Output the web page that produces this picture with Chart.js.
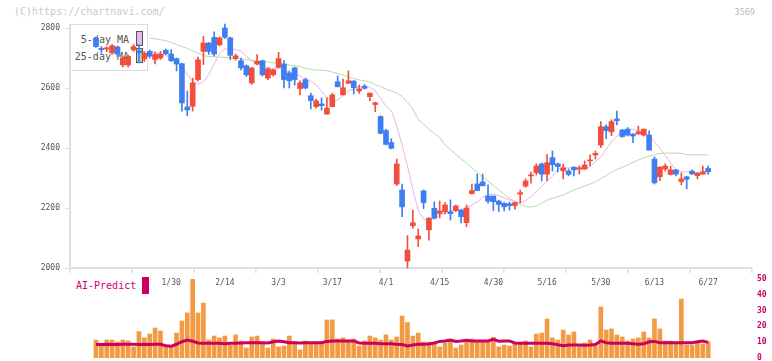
<!DOCTYPE html>
<html><head><meta charset="utf-8">
<script src="https://cdn.jsdelivr.net/npm/chart.js@4/dist/chart.umd.min.js"></script>
<style>
html,body{margin:0;padding:0;background:#fff;}
#wrap{position:relative;width:772px;height:361px;overflow:hidden;font-family:'DejaVu Sans Mono',monospace;}
canvas{position:absolute;left:0;top:0;}
.t{position:absolute;white-space:nowrap;line-height:1;}
.bx{position:absolute;box-sizing:border-box;}
</style></head><body>
<div id="wrap">
  <div class="t" style="left:14px;top:7px;font-size:10px;color:#c8c8c8">(C)https://chartnavi.com/</div>
  <div class="t" style="right:17px;top:8px;font-size:8.5px;color:#bbb">3569</div>
  <div class="bx" style="left:70px;top:24px;width:78px;height:47px;border:1px solid #ddd;background:#fff"></div>
  <div class="t" style="right:643px;top:35px;font-size:10px;color:#555">5-day MA</div>
  <div class="t" style="right:643px;top:51.5px;font-size:10px;color:#555">25-day MA</div>
  <div class="bx" style="left:136px;top:31px;width:7px;height:15px;border:1px solid #555;background:#e8b8e8"></div>
  <div class="bx" style="left:136px;top:48px;width:7px;height:15px;border:1px solid #555;background:#b8dca8"></div>
  <div class="t" style="left:76px;top:280.5px;font-size:10px;color:#cc0066">AI-Predict</div>
  <div class="bx" style="left:142px;top:277px;width:7px;height:17px;background:#cc0060"></div>
  <canvas id="c1" width="772" height="361"></canvas>
  <canvas id="c2" width="772" height="361"></canvas>
</div>
<script>
const dates = ['1/9','1/10','1/14','1/15','1/16','1/17','1/20','1/21','1/22','1/23','1/24','1/27','1/28','1/29','1/30','1/31',
'2/3','2/4','2/5','2/6','2/7','2/10','2/12','2/13','2/14','2/17','2/18','2/19','2/20','2/21','2/25','2/26','2/27','2/28',
'3/3','3/4','3/5','3/6','3/7','3/10','3/11','3/12','3/13','3/14','3/17','3/18','3/19','3/21','3/24','3/25','3/26','3/27','3/28','3/31',
'4/1','4/2','4/3','4/4','4/7','4/8','4/9','4/10','4/11','4/14','4/15','4/16','4/17','4/18','4/21','4/22','4/23','4/24','4/25','4/28','4/30',
'5/1','5/2','5/7','5/8','5/9','5/12','5/13','5/14','5/15','5/16','5/19','5/20','5/21','5/22','5/23','5/26','5/27','5/28','5/29','5/30',
'6/2','6/3','6/4','6/5','6/6','6/9','6/10','6/11','6/12','6/13','6/16','6/17','6/18','6/19','6/20','6/23','6/24','6/25','6/26','6/27'];
const xTickLabels = ['1/30','2/14','3/3','3/17','4/1','4/15','4/30','5/16','5/30','6/13','6/27'];
const priceTicks = [2000,2200,2400,2600,2800];
const volTicks = [0,10,20,30,40,50];

const opens = [2766,2732,2730,2717,2737,2677,2677,2727,2724,2697,
2722,2695,2700,2726,2713,2698,2681,2537,2539,2628,
2722,2750,2769,2744,2800,2767,2698,2691,2674,2617,
2680,2691,2633,2644,2669,2680,2650,2667,2598,2628,
2574,2538,2547,2513,2538,2621,2577,2616,2623,2590,
2606,2571,2545,2505,2458,2418,2280,2260,2023,2141,
2097,2257,2127,2199,2182,2188,2187,2191,2193,2151,
2248,2280,2287,2240,2240,2223,2216,2214,2208,2246,
2273,2307,2318,2347,2313,2368,2347,2324,2323,2336,
2330,2330,2357,2377,2410,2471,2454,2497,2460,2463,
2446,2447,2443,2443,2363,2304,2330,2312,2327,2288,
2304,2323,2308,2313,2332];
const closes = [2738,2728,2734,2741,2713,2700,2705,2738,2717,2716,
2706,2712,2713,2714,2691,2680,2550,2527,2617,2694,
2750,2722,2713,2767,2769,2709,2707,2667,2644,2667,
2689,2644,2664,2661,2698,2628,2624,2628,2617,2600,
2558,2557,2541,2533,2577,2604,2601,2624,2601,2597,
2599,2583,2551,2449,2412,2399,2347,2204,2060,2151,
2107,2218,2166,2166,2190,2210,2181,2207,2171,2200,
2258,2258,2274,2223,2221,2212,2204,2208,2218,2251,
2290,2310,2340,2313,2351,2344,2338,2334,2312,2327,
2334,2343,2360,2382,2471,2458,2488,2491,2438,2443,
2440,2454,2463,2393,2284,2336,2340,2327,2313,2297,
2296,2313,2316,2321,2321];
const highs = [2770,2738,2738,2745,2740,2705,2710,2745,2745,2722,
2727,2720,2722,2730,2728,2700,2683,2590,2633,2703,
2773,2752,2787,2770,2813,2770,2713,2700,2677,2669,
2711,2693,2667,2663,2719,2691,2657,2670,2624,2633,
2583,2563,2567,2567,2583,2640,2630,2657,2625,2610,
2612,2583,2553,2507,2462,2431,2363,2280,2108,2193,
2130,2260,2168,2220,2223,2218,2227,2210,2195,2210,
2280,2313,2313,2277,2240,2226,2218,2220,2220,2260,
2297,2320,2347,2350,2378,2390,2350,2347,2330,2338,
2340,2357,2377,2390,2488,2477,2494,2523,2462,2468,
2448,2473,2463,2457,2371,2338,2347,2340,2328,2317,
2306,2327,2318,2340,2340];
const lows = [2735,2716,2721,2712,2704,2670,2670,2722,2684,2688,
2700,2680,2695,2711,2688,2657,2523,2507,2523,2623,
2678,2712,2707,2740,2765,2694,2693,2660,2638,2612,
2677,2640,2628,2640,2667,2600,2600,2610,2577,2597,
2530,2533,2526,2513,2537,2604,2577,2614,2580,2582,
2596,2558,2521,2447,2410,2397,2275,2171,2000,2133,
2071,2198,2093,2164,2167,2180,2160,2188,2150,2138,
2246,2258,2274,2216,2191,2188,2190,2193,2196,2217,
2269,2283,2310,2290,2290,2323,2320,2297,2307,2307,
2313,2328,2340,2363,2402,2431,2441,2477,2436,2440,
2418,2446,2440,2393,2280,2291,2323,2310,2307,2277,
2264,2313,2297,2312,2313];
const ma5 = [null,null,null,null,null,null,null,null,null,null,
2721,2718,2713,2708,2702,2690,2672,2645,2622,2613,
2620,2645,2680,2715,2730,2731,2728,2722,2705,2692,
2680,2675,2668,2666,2667,2660,2651,2648,2640,2628,
2622,2610,2590,2568,2556,2560,2574,2590,2598,2603,
2604,2603,2590,2565,2540,2525,2475,2410,2340,2262,
2192,2163,2160,2163,2177,2185,2190,2193,2196,2200,
2210,2220,2236,2244,2247,2242,2233,2227,2221,2217,
2225,2238,2255,2272,2290,2305,2330,2333,2334,2333,
2330,2330,2338,2355,2370,2395,2420,2440,2455,2462,
2463,2458,2452,2440,2420,2400,2375,2350,2328,2322,
2320,2319,2318,2316,2313];
const ma25 = [null,null,null,null,null,null,null,null,null,null,
2766,2764,2761,2758,2752,2745,2738,2732,2724,2716,
2708,2705,2704,2703,2702,2701,2699,2697,2695,2692,
2690,2689,2687,2684,2681,2679,2677,2674,2671,2666,
2662,2660,2660,2658,2653,2648,2643,2637,2632,2627,
2624,2620,2611,2605,2596,2590,2584,2571,2552,2530,
2495,2480,2462,2448,2435,2410,2395,2378,2365,2350,
2333,2320,2302,2290,2275,2260,2247,2232,2222,2212,
2205,2203,2206,2216,2226,2232,2238,2243,2252,2260,
2267,2273,2280,2287,2298,2308,2320,2328,2336,2343,
2352,2360,2367,2373,2378,2382,2383,2383,2383,2382,
2378,2377,2377,2377,2377];
const volume = [11.4,8.6,11.4,11.4,10.1,11.4,10.8,7.0,16.7,12.7,
15.2,19.0,17.1,8.2,7.6,15.8,23.4,28.5,50.0,28.5,
34.8,11.4,13.9,12.7,13.9,8.2,14.6,10.8,6.3,13.3,
13.9,9.3,6.3,12.0,7.0,7.6,13.9,10.1,5.1,10.8,
10.1,10.1,9.3,24.1,24.1,12.0,12.7,11.4,12.0,7.6,
10.8,13.9,12.7,11.4,14.6,11.4,13.3,26.6,22.4,13.9,
15.8,10.1,10.1,8.9,7.0,9.5,11.4,6.3,8.2,11.4,
12.0,10.1,10.1,10.1,13.1,7.0,8.2,7.6,8.9,8.9,
10.8,7.0,15.2,15.8,24.7,12.7,11.4,17.7,14.6,16.5,
7.6,9.5,11.4,7.6,32.3,17.7,18.4,14.6,13.3,10.8,
12.0,12.7,16.5,12.7,24.7,18.4,10.8,10.8,10.1,37.3,
8.2,8.2,9.3,8.9,10.1];
const aiPredict = [8.5,8.5,8.7,8.5,8.5,8.7,8.7,8.7,8.5,8.7,
8.5,8.7,8.7,7.8,7.4,8.7,10.3,11.4,10.6,9.5,
9.3,9.3,9.3,9.3,9.0,9.3,9.3,9.5,9.7,9.7,
9.7,9.7,9.5,10.3,10.8,10.3,9.7,9.7,9.5,9.7,
9.7,9.7,9.7,10.5,10.8,10.8,10.8,10.8,10.8,9.5,
9.3,9.3,9.3,9.0,9.0,9.0,8.7,8.5,7.6,8.2,
8.7,8.7,8.9,9.5,10.5,10.8,11.4,10.5,10.8,11.2,
10.8,10.8,10.8,10.8,11.8,10.6,10.8,10.8,9.5,9.3,
9.3,9.3,9.3,9.3,9.3,9.0,8.4,7.8,8.2,8.2,
8.2,8.0,8.2,8.5,10.8,9.7,9.3,9.3,9.3,9.3,
9.0,8.7,9.0,10.3,10.5,9.7,9.7,9.7,9.7,9.7,
9.7,9.7,10.3,10.8,9.9];

const UP = '#f24e3e', DOWN = '#3e7ef0';
const XMIN = -4.842, XMAX = 122.16;
const candleColors = opens.map((o,i) => closes[i] >= o ? UP : DOWN);
const tickIdx = xTickLabels.map(l => dates.indexOf(l));
Chart.defaults.font.family = "'DejaVu Sans Mono', monospace";

// nudge layout padding so the plot area lands exactly on the target box
function fitArea(chart, target) {
  for (let k = 0; k < 4; k++) {
    const a = chart.chartArea;
    const p = chart.config.options.layout.padding;
    const dt = target.top - a.top, db = a.bottom - target.bottom;
    const dl = target.left - a.left, dr = a.right - target.right;
    if (Math.abs(dt) < 0.2 && Math.abs(db) < 0.2 && Math.abs(dl) < 0.2 && Math.abs(dr) < 0.2) break;
    chart.config.options.layout.padding = { top: p.top + dt, bottom: p.bottom + db, left: p.left + dl, right: p.right + dr };
    chart.update('none');
  }
}

const c1 = new Chart(document.getElementById('c1'), {
  data: { datasets: [
    { type:'line', data: ma25.map((v,i)=>({x:i,y:v})), borderColor:'#b5daa5', borderWidth:1, pointRadius:0, order:4, clip:false },
    { type:'line', data: ma5.map((v,i)=>({x:i,y:v})), borderColor:'#e8b2e8', borderWidth:1, pointRadius:0, order:3, clip:false },
    { type:'bar', data: lows.map((l,i)=>({x:i,y:[l,highs[i]]})), backgroundColor:candleColors, barThickness:1, grouped:false, order:2, clip:false },
    { type:'bar', data: opens.map((o,i)=>({x:i,y:[Math.min(o,closes[i]),Math.max(o,closes[i])]})), backgroundColor:candleColors, barThickness:5, minBarLength:1, grouped:false, order:1, clip:false }
  ]},
  options: {
    responsive:false, animation:false, events:[],
    layout:{ autoPadding:false, padding:{ top:25, right:20, left:0, bottom:0 } },
    plugins:{ legend:{display:false}, tooltip:{enabled:false} },
    scales:{
      x:{ type:'linear', min:XMIN, max:XMAX, offset:false, position:'bottom', weight:1,
          grid:{display:false, drawTicks:false}, border:{display:false},
          afterBuildTicks:(s)=>{ s.ticks = tickIdx.map(v=>({value:v})); },
          ticks:{ callback:(v)=>dates[v], padding:10, font:{size:8}, color:'#555', maxRotation:0, autoSkip:false },
          afterFit:(s)=>{ s.height = 93; } },
      x2:{ type:'linear', min:0, max:11, offset:false, position:'bottom', weight:0,
          ticks:{ display:false, stepSize:1 },
          grid:{ drawOnChartArea:false, tickLength:5, color:'#e0e0e0', lineWidth:1.5 },
          border:{ display:true, color:'#e0e0e0', width:2 },
          afterFit:(s)=>{ s.height = 0; } },
      y:{ type:'linear', min:2000, max:2810, position:'left',
          afterBuildTicks:(s)=>{ s.ticks = priceTicks.map(v=>({value:v})); },
          ticks:{ callback:(v)=>String(v), padding:5, font:{size:8}, color:'#555' },
          grid:{ drawOnChartArea:false, tickLength:5, color:'#e0e0e0' },
          border:{ color:'#e0e0e0', width:2 },
          afterFit:(s)=>{ s.width = 70; s.paddingTop = 0; s.paddingBottom = 0; } }
    }
  }
});
fitArea(c1, {top:25, bottom:268, left:70, right:752});

const c2 = new Chart(document.getElementById('c2'), {
  data: { datasets: [
    { type:'line', data: aiPredict.map((v,i)=>({x:i,y:v})), borderColor:'#cc0060', borderWidth:3, pointRadius:0, order:1 },
    { type:'bar', data: volume.map((v,i)=>({x:i,y:v})), backgroundColor:'#f29b45', barThickness:4, order:2 }
  ]},
  options: {
    responsive:false, animation:false, events:[],
    layout:{ autoPadding:false, padding:{ top:279, bottom:3, left:70, right:0 } },
    plugins:{ legend:{display:false}, tooltip:{enabled:false} },
    scales:{
      x:{ type:'linear', min:XMIN, max:XMAX, offset:false, display:false },
      y:{ type:'linear', position:'right', min:0, max:50,
          afterBuildTicks:(s)=>{ s.ticks = volTicks.map(v=>({value:v})); },
          ticks:{ callback:(v)=>String(v), padding:5, color:'#cc0066', font:{size:8, weight:'bold'} },
          grid:{ display:false, drawTicks:false }, border:{ display:false },
          afterFit:(s)=>{ s.width = 20; s.paddingTop = 0; s.paddingBottom = 0; } }
    }
  }
});
fitArea(c2, {top:279, bottom:358, left:70, right:752});
</script>
</body></html>
